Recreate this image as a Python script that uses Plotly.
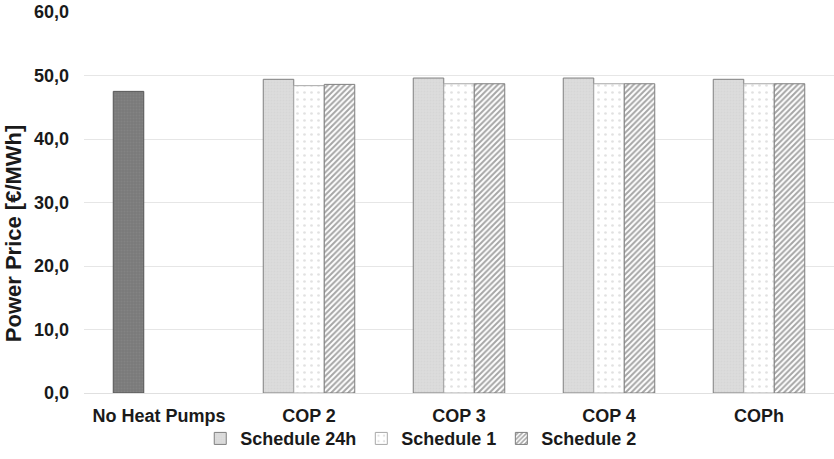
import plotly.graph_objects as go

# Average power price per scenario [€/MWh]
categories = ["No Heat Pumps", "COP 2", "COP 3", "COP 4", "COPh"]
cop_cases = ["COP 2", "COP 3", "COP 4", "COPh"]
no_heat_pumps = [47.5]
schedule_24h = [49.4, 49.6, 49.6, 49.4]
schedule_1 = [48.4, 48.7, 48.7, 48.7]
schedule_2 = [48.6, 48.7, 48.7, 48.7]

y_ticks = [0, 10, 20, 30, 40, 50, 60]

FONT = "Liberation Sans, Arial, sans-serif"
TXT = "#1a1a1a"

fig = go.Figure()

# Reference scenario, drawn in the first slot of its category
fig.add_trace(go.Bar(
    x=categories[:1], y=no_heat_pumps, name="No Heat Pumps",
    offsetgroup="a", showlegend=False,
    marker=dict(color="#808080", line=dict(color="#555555", width=1),
                pattern=dict(shape=".", fgcolor="#8c8c8c", bgcolor="#7a7a7a",
                             size=3, solidity=0.3)),
))
fig.add_trace(go.Bar(
    x=cop_cases, y=schedule_24h, name="Schedule 24h", offsetgroup="a",
    marker=dict(color="#d9d9d9", line=dict(color="#7f7f7f", width=1),
                pattern=dict(shape=".", fgcolor="#cfcfcf", bgcolor="#dcdcdc",
                             size=3, solidity=0.3)),
))
fig.add_trace(go.Bar(
    x=cop_cases, y=schedule_1, name="Schedule 1", offsetgroup="b",
    marker=dict(color="white", line=dict(color="#a8a8a8", width=1),
                pattern=dict(shape=".", fgcolor="#c4c4c4", bgcolor="white",
                             size=7, solidity=0.12)),
))
fig.add_trace(go.Bar(
    x=cop_cases, y=schedule_2, name="Schedule 2", offsetgroup="c",
    marker=dict(color="white", line=dict(color="#7f7f7f", width=1),
                pattern=dict(shape="/", fgcolor="#4d4d4d", bgcolor="white",
                             size=4, solidity=0.5)),
))

fig.add_annotation(
    text="Power Price [€/MWh]", textangle=-90,
    xref="paper", yref="paper", x=-0.093, y=0.42,
    xanchor="center", yanchor="middle", showarrow=False,
    font=dict(family=FONT, size=22, color=TXT, weight="bold"),
)

fig.update_layout(
    width=834, height=459,
    margin=dict(l=84, r=0, t=12, b=66),
    paper_bgcolor="white", plot_bgcolor="white",
    barmode="group", bargap=0.39, bargroupgap=0,
    separators=",.",
    font=dict(family=FONT, color=TXT),
    xaxis=dict(
        categoryorder="array", categoryarray=categories,
        showgrid=False, showline=False, zeroline=False,
        ticks="", ticklabelstandoff=10,
        tickfont=dict(family=FONT, size=18, color=TXT, weight="bold"),
    ),
    yaxis=dict(
        range=[0, 60], tickvals=y_ticks, tickformat=".1f",
        showgrid=True, gridcolor="#e6e6e6", gridwidth=1,
        zeroline=True, zerolinecolor="#e0e0e0", zerolinewidth=1,
        showline=False,
        ticks="", ticklabelstandoff=14,
        tickfont=dict(family=FONT, size=18, color=TXT, weight="bold"),
    ),
    legend=dict(
        orientation="h", xanchor="left", yanchor="middle",
        x=0.155, y=-0.12, bgcolor="rgba(0,0,0,0)",
        font=dict(family=FONT, size=18, color=TXT, weight="bold"),
        itemclick=False, itemdoubleclick=False,
    ),
)

fig.write_html("out.html")
